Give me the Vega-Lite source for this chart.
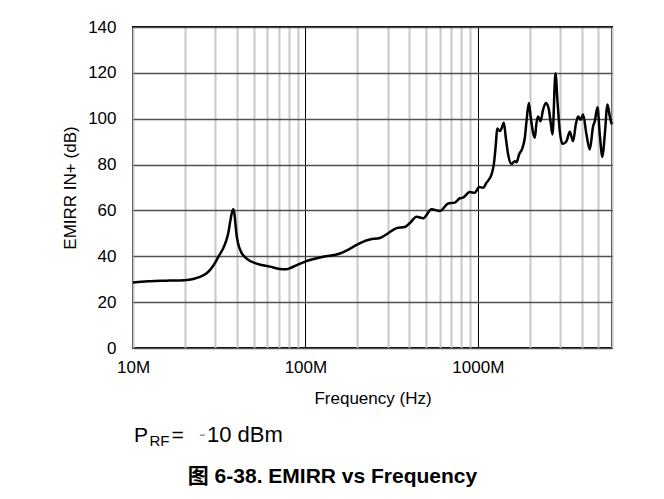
{
  "$schema": "https://vega.github.io/schema/vega-lite/v6.json",
  "width": 479,
  "height": 321,
  "autosize": {"type": "none"},
  "padding": {"left": 133, "top": 27, "right": 52, "bottom": 151},
  "background": "white",
  "view": {"stroke": "black", "strokeWidth": 2},
  "title": {
    "text": "图 6-38. EMIRR vs Frequency",
    "orient": "bottom",
    "anchor": "middle",
    "frame": "group",
    "dx": -40,
    "offset": 17,
    "font": "Liberation Sans, Noto Sans CJK SC",
    "fontSize": 21,
    "fontWeight": "bold",
    "color": "black"
  },
  "config": {
    "font": "Liberation Sans",
    "axis": {
      "labelFont": "Liberation Sans",
      "titleFont": "Liberation Sans",
      "labelColor": "black",
      "titleColor": "black",
      "domain": false,
      "ticks": false,
      "titleFontWeight": "normal"
    }
  },
  "data": {
    "values": [
      {"freq": 1.0e7, "emirr": 28.6},
      {"freq": 1.12e7, "emirr": 28.9},
      {"freq": 1.255e7, "emirr": 29.1},
      {"freq": 1.45e7, "emirr": 29.3},
      {"freq": 1.639e7, "emirr": 29.4},
      {"freq": 1.984e7, "emirr": 29.6},
      {"freq": 2.236e7, "emirr": 30.1},
      {"freq": 2.445e7, "emirr": 31.0},
      {"freq": 2.674e7, "emirr": 32.6},
      {"freq": 2.832e7, "emirr": 34.5},
      {"freq": 3.0e7, "emirr": 37.3},
      {"freq": 3.194e7, "emirr": 41.0},
      {"freq": 3.338e7, "emirr": 43.5},
      {"freq": 3.46e7, "emirr": 46.5},
      {"freq": 3.568e7, "emirr": 50.0},
      {"freq": 3.65e7, "emirr": 54.5},
      {"freq": 3.734e7, "emirr": 58.5},
      {"freq": 3.815e7, "emirr": 60.5},
      {"freq": 3.877e7, "emirr": 58.5},
      {"freq": 3.929e7, "emirr": 54.0},
      {"freq": 3.992e7, "emirr": 49.0},
      {"freq": 4.089e7, "emirr": 45.0},
      {"freq": 4.228e7, "emirr": 42.0},
      {"freq": 4.562e7, "emirr": 39.0},
      {"freq": 5.213e7, "emirr": 36.8},
      {"freq": 6.225e7, "emirr": 35.5},
      {"freq": 7.115e7, "emirr": 34.5},
      {"freq": 7.709e7, "emirr": 34.3},
      {"freq": 8.241e7, "emirr": 35.0},
      {"freq": 9.05e7, "emirr": 36.4},
      {"freq": 9.97e7, "emirr": 37.7},
      {"freq": 1.268e8, "emirr": 39.8},
      {"freq": 1.585e8, "emirr": 41.2},
      {"freq": 1.764e8, "emirr": 42.8},
      {"freq": 1.981e8, "emirr": 45.0},
      {"freq": 2.154e8, "emirr": 46.3},
      {"freq": 2.365e8, "emirr": 47.3},
      {"freq": 2.704e8, "emirr": 48.0},
      {"freq": 2.956e8, "emirr": 49.6},
      {"freq": 3.379e8, "emirr": 52.3},
      {"freq": 3.775e8, "emirr": 52.8},
      {"freq": 4.036e8, "emirr": 54.5},
      {"freq": 4.413e8, "emirr": 57.2},
      {"freq": 4.818e8, "emirr": 56.6},
      {"freq": 5.391e8, "emirr": 60.5},
      {"freq": 6.022e8, "emirr": 59.8},
      {"freq": 6.727e8, "emirr": 63.0},
      {"freq": 7.357e8, "emirr": 63.4},
      {"freq": 7.865e8, "emirr": 65.3},
      {"freq": 8.219e8, "emirr": 65.6},
      {"freq": 8.987e8, "emirr": 68.0},
      {"freq": 9.607e8, "emirr": 67.7},
      {"freq": 1.017e9, "emirr": 70.2},
      {"freq": 1.073e9, "emirr": 69.9},
      {"freq": 1.123e9, "emirr": 72.1},
      {"freq": 1.201e9, "emirr": 75.7},
      {"freq": 1.238e9, "emirr": 80.1},
      {"freq": 1.272e9, "emirr": 88.8},
      {"freq": 1.294e9, "emirr": 95.7},
      {"freq": 1.341e9, "emirr": 94.6},
      {"freq": 1.372e9, "emirr": 95.7},
      {"freq": 1.415e9, "emirr": 98.2},
      {"freq": 1.453e9, "emirr": 91.7},
      {"freq": 1.499e9, "emirr": 84.4},
      {"freq": 1.568e9, "emirr": 80.3},
      {"freq": 1.639e9, "emirr": 81.5},
      {"freq": 1.676e9, "emirr": 81.0},
      {"freq": 1.735e9, "emirr": 84.4},
      {"freq": 1.816e9, "emirr": 87.3},
      {"freq": 1.873e9, "emirr": 91.7},
      {"freq": 1.916e9, "emirr": 98.9},
      {"freq": 1.976e9, "emirr": 106.9},
      {"freq": 2.029e9, "emirr": 100.3},
      {"freq": 2.093e9, "emirr": 93.8},
      {"freq": 2.141e9, "emirr": 91.7},
      {"freq": 2.189e9, "emirr": 98.2},
      {"freq": 2.237e9, "emirr": 101.0},
      {"freq": 2.31e9, "emirr": 98.9},
      {"freq": 2.391e9, "emirr": 104.0},
      {"freq": 2.479e9, "emirr": 106.9},
      {"freq": 2.57e9, "emirr": 104.7},
      {"freq": 2.64e9, "emirr": 98.9},
      {"freq": 2.71e9, "emirr": 93.1},
      {"freq": 2.821e9, "emirr": 119.8},
      {"freq": 2.897e9, "emirr": 107.6},
      {"freq": 2.988e9, "emirr": 94.6},
      {"freq": 3.097e9, "emirr": 89.0},
      {"freq": 3.267e9, "emirr": 90.2},
      {"freq": 3.414e9, "emirr": 94.3},
      {"freq": 3.568e9, "emirr": 90.2},
      {"freq": 3.7e9, "emirr": 97.5},
      {"freq": 3.815e9, "emirr": 101.0},
      {"freq": 3.955e9, "emirr": 99.6},
      {"freq": 4.078e9, "emirr": 101.8},
      {"freq": 4.267e9, "emirr": 93.1},
      {"freq": 4.46e9, "emirr": 86.6},
      {"freq": 4.661e9, "emirr": 96.7},
      {"freq": 4.768e9, "emirr": 98.9},
      {"freq": 4.943e9, "emirr": 105.0},
      {"freq": 5.097e9, "emirr": 93.1},
      {"freq": 5.284e9, "emirr": 83.3},
      {"freq": 5.449e9, "emirr": 93.1},
      {"freq": 5.649e9, "emirr": 106.2},
      {"freq": 5.825e9, "emirr": 101.0},
      {"freq": 5.983e9, "emirr": 97.5}
    ]
  },
  "layer": [
    {
      "mark": {"type": "line", "color": "black", "strokeWidth": 2.5, "interpolate": "monotone"},
      "encoding": {
        "x": {
          "field": "freq",
          "type": "quantitative",
          "scale": {"type": "log", "domain": [10000000, 6000000000], "nice": false},
          "axis": {
            "title": "Frequency (Hz)",
            "titleFontSize": 17,
            "titlePadding": 15,
            "labelFontSize": 17,
            "labelPadding": 11,
            "values": [10000000, 20000000, 30000000, 40000000, 50000000, 60000000, 70000000, 80000000, 90000000, 100000000, 200000000, 300000000, 400000000, 500000000, 600000000, 700000000, 800000000, 900000000, 1000000000, 2000000000, 3000000000, 4000000000, 5000000000, 6000000000],
            "labelExpr": "datum.value == 10000000 ? '10M' : datum.value == 100000000 ? '100M' : datum.value == 1000000000 ? '1000M' : ''",
            "labelOverlap": false,
            "labelFlush": false,
            "grid": true,
            "gridColor": {"condition": {"test": "datum.value == 100000000 || datum.value == 1000000000", "value": "black"}, "value": "#c8c8c8"},
            "gridWidth": {"condition": {"test": "datum.value == 100000000 || datum.value == 1000000000", "value": 1}, "value": 2},
            "gridOpacity": 1
          }
        },
        "y": {
          "field": "emirr",
          "type": "quantitative",
          "scale": {"domain": [0, 140], "nice": false},
          "axis": {
            "title": "EMIRR IN+ (dB)",
            "titleFontSize": 17,
            "titlePadding": 8,
            "labelFontSize": 17,
            "labelPadding": 17,
            "values": [0, 20, 40, 60, 80, 100, 120, 140],
            "grid": true,
            "gridColor": "#505050",
            "gridWidth": 1.3,
            "gridOpacity": 1
          }
        }
      }
    },
    {
      "data": {"values": [{}]},
      "mark": {"type": "text", "text": "P", "align": "left", "baseline": "alphabetic", "fontSize": 21, "font": "Liberation Sans", "dx": 1, "color": "black"},
      "encoding": {"x": {"datum": 10000000, "type": "quantitative"}, "y": {"datum": -40.9, "type": "quantitative"}}
    },
    {
      "data": {"values": [{}]},
      "mark": {"type": "text", "text": "RF", "align": "left", "baseline": "alphabetic", "fontSize": 15, "font": "Liberation Sans", "dx": 16.5, "dy": 4.5, "color": "black"},
      "encoding": {"x": {"datum": 10000000, "type": "quantitative"}, "y": {"datum": -40.9, "type": "quantitative"}}
    },
    {
      "data": {"values": [{}]},
      "mark": {"type": "text", "text": "=", "align": "left", "baseline": "alphabetic", "fontSize": 21, "font": "Liberation Sans", "dx": 38.5, "color": "black"},
      "encoding": {"x": {"datum": 10000000, "type": "quantitative"}, "y": {"datum": -40.9, "type": "quantitative"}}
    },
    {
      "data": {"values": [{}]},
      "mark": {"type": "text", "text": "-", "align": "left", "baseline": "alphabetic", "fontSize": 20, "font": "Liberation Sans", "dx": 66, "dy": -1, "color": "#999999"},
      "encoding": {"x": {"datum": 10000000, "type": "quantitative"}, "y": {"datum": -40.9, "type": "quantitative"}}
    },
    {
      "data": {"values": [{}]},
      "mark": {"type": "text", "text": "10 dBm", "align": "left", "baseline": "alphabetic", "fontSize": 22, "font": "Liberation Sans", "dx": 74, "color": "black"},
      "encoding": {"x": {"datum": 10000000, "type": "quantitative"}, "y": {"datum": -40.9, "type": "quantitative"}}
    }
  ]
}
